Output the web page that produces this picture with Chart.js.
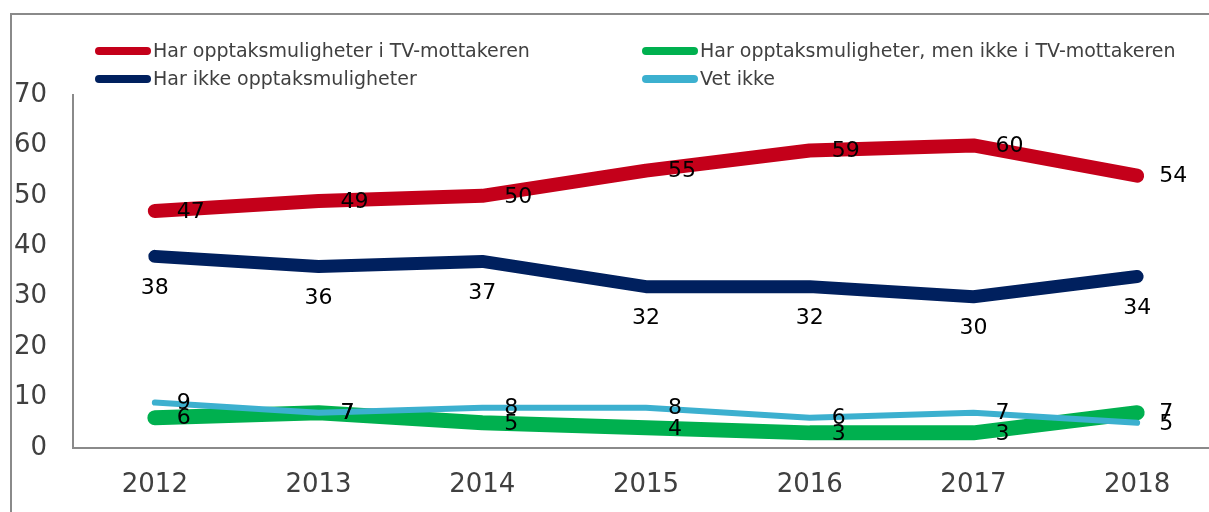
<!DOCTYPE html>
<html>
<head>
<meta charset="utf-8">
<script src="https://cdn.jsdelivr.net/npm/chart.js@4/dist/chart.umd.min.js"></script>
<style>
  html, body { margin: 0; padding: 0; background: #fff; overflow: hidden; }
  #frame { position: absolute; left: 10px; top: 13px; width: 1400px; height: 700px;
           border-left: 2px solid #8a8a8a; border-top: 2px solid #8a8a8a; }
  #chart { position: absolute; left: 0; top: 0; }
</style>
</head>
<body>
<div id="frame"></div>
<canvas id="chart" width="1219" height="512"></canvas>
<script>
var years = ["2012", "2013", "2014", "2015", "2016", "2017", "2018"];

var seriesNames = [
  "Har opptaksmuligheter i TV-mottakeren",
  "Har opptaksmuligheter, men ikke i TV-mottakeren",
  "Har ikke opptaksmuligheter",
  "Vet ikke"
];
var harITv = [47, 49, 50, 55, 59, 60, 54];
var harIkkeITv = [6, 7, 5, 4, 3, 3, 7];
var harIkke = [38, 36, 37, 32, 32, 30, 34];
var vetIkke = [9, 7, 8, 8, 6, 7, 5];

var yTicks = [0, 10, 20, 30, 40, 50, 60, 70];

var font = "'DejaVu Sans', Verdana, sans-serif";

// draws the value next to every point
var valueLabels = {
  id: "valueLabels",
  afterDatasetsDraw: function(chart) {
    var ctx = chart.ctx;
    ctx.save();
    ctx.font = "22px " + font;
    ctx.fillStyle = "#000";
    ctx.textBaseline = "middle";
    chart.data.datasets.forEach(function(ds, i) {
      var meta = chart.getDatasetMeta(i);
      meta.data.forEach(function(pt, j) {
        if (ds.labelPos === "below") {
          ctx.textAlign = "center";
          ctx.fillText(ds.data[j], pt.x, pt.y + 32);
        } else {
          ctx.textAlign = "left";
          ctx.fillText(ds.data[j], pt.x + 22, pt.y + 1);
        }
      });
    });
    ctx.restore();
  }
};

// two column legend like the original
var gridLegend = {
  id: "gridLegend",
  afterDraw: function(chart) {
    var ctx = chart.ctx;
    var spots = [[95, 51], [642, 51], [95, 79], [642, 79]];
    ctx.save();
    ctx.font = "19px " + font;
    ctx.textBaseline = "middle";
    ctx.textAlign = "left";
    chart.data.datasets.forEach(function(ds, i) {
      var x = spots[i][0], y = spots[i][1];
      ctx.strokeStyle = ds.borderColor;
      ctx.lineWidth = 8;
      ctx.lineCap = "round";
      ctx.beginPath();
      ctx.moveTo(x + 4, y);
      ctx.lineTo(x + 52, y);
      ctx.stroke();
      ctx.fillStyle = "#404040";
      ctx.fillText(ds.label, x + 58, y + 1);
    });
    ctx.restore();
  }
};

new Chart(document.getElementById("chart"), {
  type: "line",
  data: {
    labels: years,
    datasets: [
      { label: seriesNames[0], data: harITv, borderColor: "#c4001a", borderWidth: 14, order: 3 },
      { label: seriesNames[1], data: harIkkeITv, borderColor: "#00b04f", borderWidth: 15, order: 1 },
      { label: seriesNames[2], data: harIkke, borderColor: "#00205e", borderWidth: 13, order: 2, labelPos: "below" },
      { label: seriesNames[3], data: vetIkke, borderColor: "#3cb0cf", borderWidth: 6, order: 0 }
    ]
  },
  options: {
    responsive: false,
    animation: false,
    layout: { padding: { top: 95, left: 0, right: 0, bottom: 0 } },
    elements: {
      line: { tension: 0, borderCapStyle: "round", borderJoinStyle: "round", fill: false },
      point: { radius: 0, hoverRadius: 0 }
    },
    plugins: { legend: { display: false }, tooltip: { enabled: false } },
    scales: {
      x: {
        offset: true,
        grid: { display: false, drawTicks: false },
        border: { display: true, color: "#8a8a8a", width: 2 },
        ticks: { color: "#404040", font: { family: font, size: 26 }, padding: 22 },
        afterFit: function(scale) { scale.height = 512 - 448; }
      },
      y: {
        min: 0,
        max: 70,
        afterBuildTicks: function(scale) {
          scale.ticks = yTicks.map(function(v) { return { value: v }; });
        },
        grid: { display: false, drawTicks: false },
        border: { display: true, color: "#8a8a8a", width: 2 },
        ticks: { color: "#404040", font: { family: font, size: 26 }, padding: 26 },
        afterFit: function(scale) { scale.width = 73; }
      }
    }
  },
  plugins: [valueLabels, gridLegend]
});
</script>
</body>
</html>
